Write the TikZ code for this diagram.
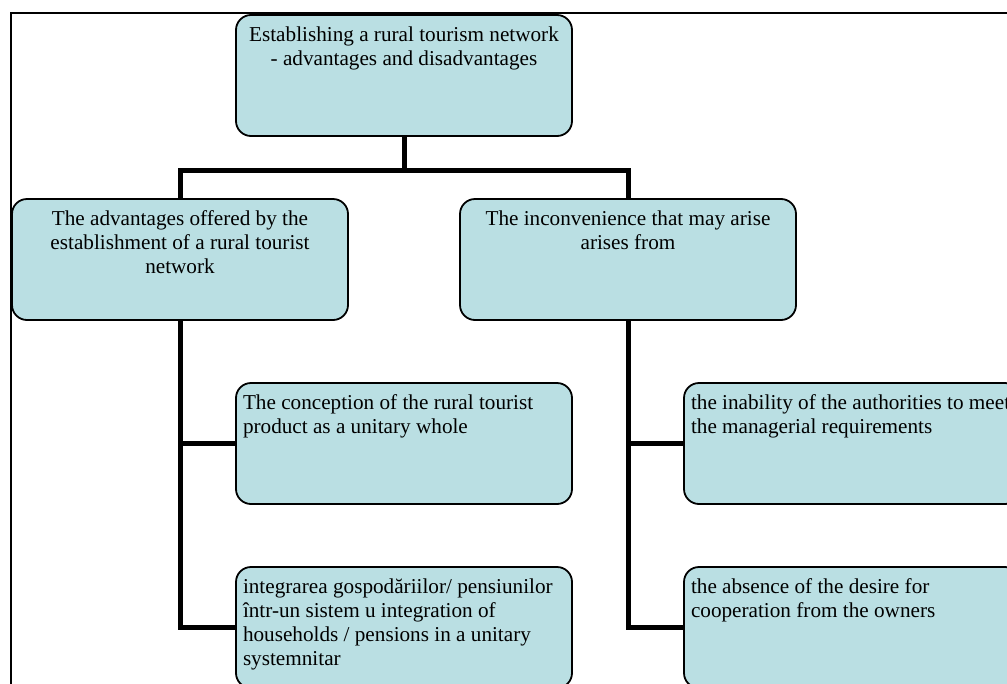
\documentclass[tikz,border=0pt]{standalone}
\usepackage{fontspec}
\setmainfont{Liberation Serif}
\definecolor{boxfill}{RGB}{186,223,227}
% text block inside a card: alignment, then the lines
\newcommand\cardtext[2]{\parbox[c][121pt][t]{322pt}{\fontsize{21.2}{24}\selectfont#1\rule{0pt}{26pt}#2}}
\begin{document}
\begin{tikzpicture}[x=1pt,y=-1pt,
  card/.style={draw=black, line width=1.8pt, fill=boxfill, rounded corners=15pt,
    minimum width=336pt, minimum height=121pt, inner sep=0pt, outer sep=0pt, anchor=north west},
  link/.style={line width=5pt, line join=miter},
  frameline/.style={line width=1.5pt}]
\clip (0,0) rectangle (1007,683);
\fill[white] (0,0) rectangle (1007,683);
\draw[frameline] (11,690) -- (11,13) -- (1010,13);

\node[card] (top)   at (236,15)  {\cardtext{\centering}{Establishing a rural tourism network\\- advantages and disadvantages}};
\node[card] (adv)   at (12,199)  {\cardtext{\centering}{The advantages offered by the\\establishment of a rural tourist\\network}};
\node[card] (inc)   at (460,199) {\cardtext{\centering}{The inconvenience that may arise\\arises from}};
\node[card] (conc)  at (236,383) {\cardtext{\raggedright}{The conception of the rural tourist\\product as a unitary whole}};
\node[card] (integ) at (236,567) {\cardtext{\raggedright}{integrarea gospodăriilor/ pensiunilor\\într-un sistem u integration of\\households / pensions in a unitary\\systemnitar}};
\node[card] (inab)  at (684,383) {\cardtext{\raggedright}{\mbox{the inability of the authorities to meet}\\the managerial requirements}};
\node[card] (abs)   at (684,567) {\cardtext{\raggedright}{the absence of the desire for\\cooperation from the owners}};

\coordinate (bar) at (0,170);
\draw[link] (top.south) -- (top.south |- bar);
\draw[link] (adv.north) -- (adv.north |- bar) -- (inc.north |- bar) -- (inc.north);
\draw[link] (adv.south) -- (adv.south |- integ.west) -- (integ.west);
\draw[link] (adv.south |- conc.west) -- (conc.west);
\draw[link] (inc.south) -- (inc.south |- abs.west) -- (abs.west);
\draw[link] (inc.south |- inab.west) -- (inab.west);
\end{tikzpicture}
\end{document}
